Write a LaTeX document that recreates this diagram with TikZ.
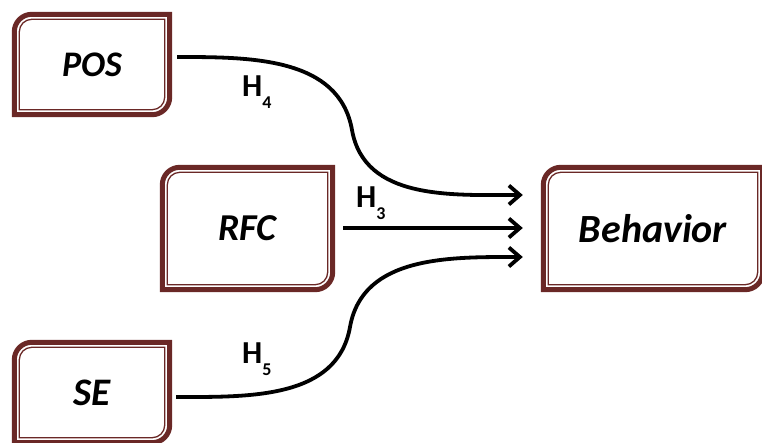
\documentclass[tikz,border=0pt]{standalone}
\usepackage{fontspec}
\setmainfont{Carlito}
\usetikzlibrary{arrows.meta,calc}
\definecolor{brd}{RGB}{106,40,38}
\newcommand\dblframe[1]{%
 \draw[brd,line width=5pt] ($(#1.south west)+(2.5,2.5)$) -- ($(#1.north west)+(2.5,-20)$) arc[start angle=180,end angle=90,radius=17.5pt] -- ($(#1.north east)+(-2.5,-2.5)$) -- ($(#1.south east)+(-2.5,20)$) arc[start angle=0,end angle=-90,radius=17.5pt] -- cycle;
 \draw[brd,line width=1.3pt] ($(#1.south west)+(7.5,7.5)$) -- ($(#1.north west)+(7.5,-20)$) arc[start angle=180,end angle=90,radius=12.5pt] -- ($(#1.north east)+(-7.5,-7.5)$) -- ($(#1.south east)+(-7.5,20)$) arc[start angle=0,end angle=-90,radius=12.5pt] -- cycle;}
\tikzset{
 box/.style={inner sep=0pt, font=\bfseries\itshape},
 arr/.style={line width=3.8pt, -{Straight Barb[length=11pt,width=19pt,line width=3.8pt]}},
 hlab/.style={anchor=base west, inner sep=0pt, font=\fontsize{32}{34}\selectfont\bfseries},
}
\newcommand\hsub[1]{H\raisebox{-12pt}{\fontsize{18}{18}\selectfont #1}}
\begin{document}
\begin{tikzpicture}[x=1pt,y=1pt]
\useasboundingbox (0,0) rectangle (762,442);
\node[box, minimum width=160pt, minimum height=105pt] (pos) at (92,377.5) {\fontsize{36}{38}\selectfont POS};
\node[box, minimum width=175pt, minimum height=127pt] (rfc) at (247.5,213.5) {\fontsize{38}{40}\selectfont RFC};
\node[box, minimum width=224pt, minimum height=127pt] (beh) at (653,213.5) {\fontsize{40}{42}\selectfont Behavior};
\node[box, minimum width=160pt, minimum height=105pt] (se) at (92,49.5) {\fontsize{39}{41}\selectfont SE};
\dblframe{pos}
\dblframe{rfc}
\dblframe{beh}
\dblframe{se}
\coordinate (m4) at (352,312);
\coordinate (m5) at (350,115);
\draw[arr] ($(pos.east)+(5,7.5)$) to[out=0,in=100] (m4) to[out=-80,in=180] ($(beh.west)+(-18,33.5)$);
\draw[arr] ($(rfc.east)+(8,0.5)$) -- ($(beh.west)+(-18,0.5)$);
\draw[arr] ($(se.east)+(4,-4.5)$) to[out=0,in=-100] (m5) to[out=80,in=180] ($(beh.west)+(-18,-28.5)$);
\node[hlab] (h4) at (242,345) {\hsub{4}};
\node[hlab] (h3) at (356,234) {\hsub{3}};
\node[hlab] (h5) at (242,79) {\hsub{5}};
\end{tikzpicture}
\end{document}
